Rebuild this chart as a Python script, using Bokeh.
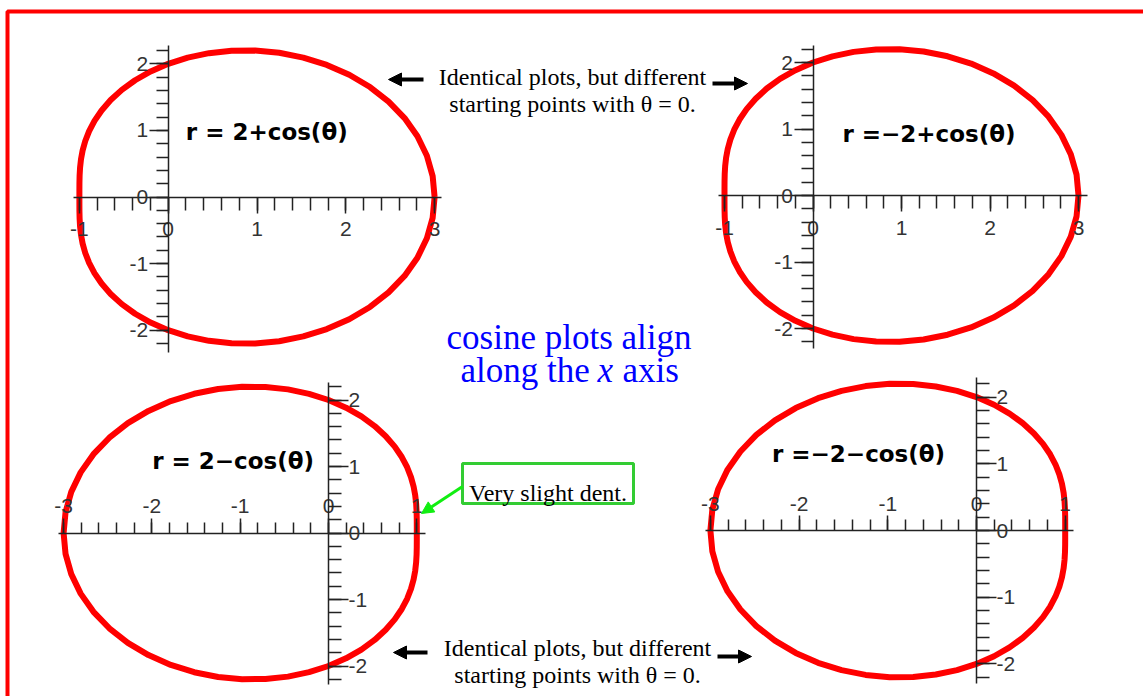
import numpy as np
from bokeh.plotting import figure
from bokeh.models import (Range1d, LinearAxis, SingleIntervalTicker, Arrow,
                          NormalHead, PrintfTickFormatter)
from bokeh.core.properties import value
from bokeh.embed import file_html
from bokeh.resources import INLINE

W, H = 1143, 696

# Four limacons r = a + b*cos(theta)
panel_names = ["tl", "tr", "bl", "br"]
a_coef = [2, -2, 2, -2]
b_coef = [1, 1, -1, -1]
equations = ["r = 2+cos(θ)", "r =−2+cos(θ)", "r = 2−cos(θ)", "r =−2−cos(θ)"]
x_bounds = [(-1.07, 3.08), (-1.07, 3.1), (-3.06, 1.1), (-3.06, 1.09)]
y_bounds = [(-2.33, 2.28), (-2.3, 2.26), (-2.28, 2.27), (-2.29, 2.29)]
eq_pos = [(1.11, 0.97), (1.31, 0.92), (-1.08, 1.09), (-1.33, 1.15)]

theta = np.linspace(0, 2 * np.pi, 61)

note_lines = ["Identical plots, but different", "starting points with θ = 0."]
center_line1 = "cosine plots align"
center_line2 = ["along the", "x", "axis"]
dent_note = "Very slight dent."

# screen placement of each panel: origin pixel and pixels per unit
layout = {
    "tl": dict(ox=167.7, oy=196.5, ux=88.8, uy=66.6, top=True),
    "tr": dict(ox=812.5, oy=195.0, ux=88.5, uy=66.5, top=True),
    "bl": dict(ox=328.0, oy=532.5, ux=88.3, uy=66.5, top=False),
    "br": dict(ox=976.0, oy=530.0, ux=88.7, uy=66.7, top=False),
}

xr, yr = {}, {}
for name in panel_names:
    L = layout[name]
    xr[name] = Range1d(-L["ox"] / L["ux"], (W - L["ox"]) / L["ux"])
    yr[name] = Range1d((L["oy"] - H) / L["uy"], L["oy"] / L["uy"])

p = figure(width=W, height=H, x_range=Range1d(0, W), y_range=Range1d(H, 0),
           x_axis_type=None, y_axis_type=None, toolbar_location=None,
           output_backend="svg", min_border=0, outline_line_color=None,
           background_fill_color="white", border_fill_color="white")
p.extra_x_ranges = xr
p.extra_y_ranges = yr

axis_style = dict(axis_line_color="#222222", axis_line_width=1.5,
                  major_tick_line_color="#222222", major_tick_line_width=1.5,
                  minor_tick_line_color="#222222", minor_tick_line_width=1.5,
                  major_tick_in=0, minor_tick_in=0,
                  major_label_text_font="Liberation Sans",
                  major_label_text_font_size="21px",
                  major_label_text_color="#333333")

for i, name in enumerate(panel_names):
    L = layout[name]
    r = a_coef[i] + b_coef[i] * np.cos(theta)
    xs = r * np.cos(theta)
    ys = r * np.sin(theta)
    p.line(xs, ys, x_range_name=name, y_range_name=name,
           line_color="#ff0000", line_width=6, line_join="round")

    if L["top"]:
        xa = LinearAxis(major_tick_out=16, minor_tick_out=13, major_label_standoff=9, **axis_style)
        ya = LinearAxis(major_tick_out=19, minor_tick_out=12, major_label_standoff=1, **axis_style)
        xside, yside = "below", "left"
    else:
        xa = LinearAxis(major_tick_out=15, minor_tick_out=11, major_label_standoff=5, **axis_style)
        ya = LinearAxis(major_tick_out=20, minor_tick_out=13, major_label_standoff=0, **axis_style)
        xside, yside = "above", "right"
    for ax, b in ((xa, x_bounds[i]), (ya, y_bounds[i])):
        ax.x_range_name = name
        ax.y_range_name = name
        ax.fixed_location = 0
        ax.bounds = b
        ax.ticker = SingleIntervalTicker(interval=1, num_minor_ticks=5)
        ax.formatter = PrintfTickFormatter(format="%d")
    p.add_layout(xa, xside)
    p.add_layout(ya, yside)

    p.text(x=[eq_pos[i][0]], y=[eq_pos[i][1]], text=[equations[i]],
           x_range_name=name, y_range_name=name,
           text_font=value("DejaVu Sans"), text_font_style="bold",
           text_font_size="23px", text_align="center", text_baseline="middle",
           text_color="black")

# slide frame
p.quad(left=[7], right=[1170], top=[11], bottom=[720], fill_color=None,
       line_color="#ff0000", line_width=4)

serif = value("Liberation Serif")

# notes above and below
for cx, base in ((572.0, 76), (577.0, 647)):
    p.text(x=[cx, cx], y=[base, base + 27], text=note_lines, text_font=serif,
           text_font_size="24px", text_align="center", text_baseline="alphabetic",
           text_color="black")

for xs0, xe0, yy in ((423, 388, 79), (712, 747, 83), (427, 393, 652), (717, 751, 656)):
    p.add_layout(Arrow(end=NormalHead(size=13, fill_color="black", line_color="black"),
                       x_start=xs0, y_start=yy, x_end=xe0, y_end=yy,
                       line_color="black", line_width=4))

# centre caption
p.text(x=[568.5], y=[337], text=[center_line1], text_font=serif,
       text_font_size="35px", text_align="center", text_baseline="alphabetic",
       text_color="#0000ff")
p.text(x=[460], y=[370], text=[center_line2[0]], text_font=serif,
       text_font_size="35px", text_align="left", text_baseline="alphabetic",
       text_color="#0000ff")
p.text(x=[597], y=[370], text=[center_line2[1]], text_font=serif,
       text_font_style="italic", text_font_size="35px", text_align="left",
       text_baseline="alphabetic", text_color="#0000ff")
p.text(x=[622], y=[370], text=[center_line2[2]], text_font=serif,
       text_font_size="35px", text_align="left", text_baseline="alphabetic",
       text_color="#0000ff")

# dent callout
p.quad(left=[462], right=[633], top=[463], bottom=[503], fill_color="white",
       line_color="#33cc33", line_width=3)
p.text(x=[547.5], y=[492], text=[dent_note], text_font=serif,
       text_font_size="24px", text_align="center", text_baseline="alphabetic",
       text_color="black")
p.add_layout(Arrow(end=NormalHead(size=12, fill_color="#11ee11", line_color="#11ee11"),
                   x_start=462, y_start=486, x_end=421, y_end=513,
                   line_color="#11ee11", line_width=3))

open("out.html", "w").write(file_html(p, INLINE))
